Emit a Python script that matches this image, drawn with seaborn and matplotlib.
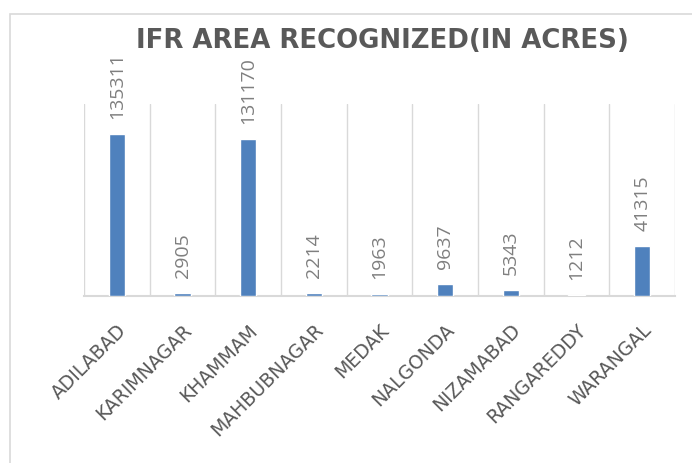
import matplotlib
matplotlib.use("Agg")
import matplotlib.pyplot as plt
import seaborn as sns
import numpy as np
from matplotlib.patches import Rectangle

# data
districts = ['ADILABAD', 'KARIMNAGAR', 'KHAMMAM', 'MAHBUBNAGAR', 'MEDAK',
             'NALGONDA', 'NIZAMABAD', 'RANGAREDDY', 'WARANGAL']
ifr_area = [135311, 2905, 131170, 2214, 1963, 9637, 5343, 1212, 41315]

sns.set_theme(style='white')
plt.rcParams['font.family'] = ['DejaVu Sans']

fig = plt.figure(figsize=(6.92, 4.64), dpi=100)
ax = fig.add_axes([0.1214, 0.3599, 0.854, 0.4138])

sns.barplot(x=districts, y=ifr_area, color='#4f81bd', saturation=1,
            width=0.25, ax=ax)
for p in ax.patches:
    p.set_zorder(3)

ax.set_xlim(-0.5, len(districts) - 0.5)
ax.set_ylim(0, 160000)

# vertical lines between categories, like excel
ax.set_xticks(np.arange(-0.5, len(districts), 1), minor=True)
ax.grid(False)
ax.grid(which='minor', axis='x', color='#d9d9d9', lw=1)
ax.set_axisbelow(True)

for s in ['top', 'right', 'left']:
    ax.spines[s].set_visible(False)
ax.spines['bottom'].set_color('#d9d9d9')
ax.spines['bottom'].set_linewidth(1.5)
ax.spines['bottom'].set_zorder(2)

ax.set_yticks([])
ax.set_xlabel('')
ax.set_ylabel('')
ax.tick_params(which='both', length=0)
ax.tick_params(axis='x', which='major', pad=17)
for lab in ax.get_xticklabels():
    lab.set_rotation(45)
    lab.set_ha('right')
    lab.set_va('top')
    lab.set_rotation_mode('anchor')
    lab.set_fontsize(13.5)
    lab.set_color('#595959')

# value labels
for i, v in enumerate(ifr_area):
    ax.annotate(str(v), xy=(i, v), xytext=(0, 11.5), textcoords='offset points',
                rotation=90, ha='center', va='bottom', fontsize=14,
                family=['Open Sans', 'DejaVu Sans'], color='#7f7f7f')

fig.text(0.552, 0.8966, 'IFR AREA RECOGNIZED(IN ACRES)', ha='center',
         va='baseline', fontsize=18.7, fontweight='bold', color='#595959')

# chart border (cut off at right and bottom in the picture)
fig.add_artist(Rectangle((10 / 692, -0.1), 1.2, 1 - 15 / 464 + 0.1,
                         transform=fig.transFigure, fill=False,
                         ec='#d9d9d9', lw=1.2))

fig.savefig('out.png', dpi=100)
